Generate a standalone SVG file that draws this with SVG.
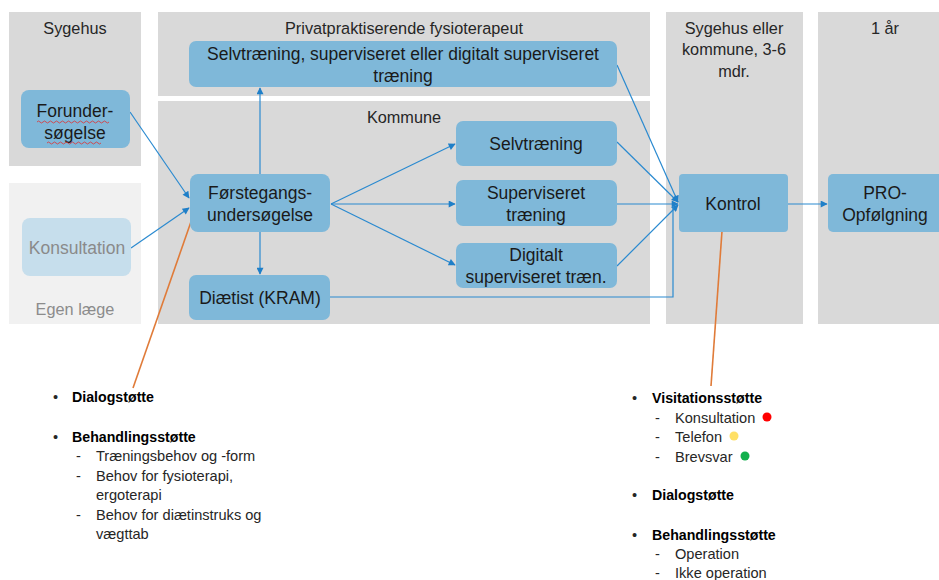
<svg xmlns="http://www.w3.org/2000/svg" width="939" height="580" viewBox="0 0 939 580">
<style>
.panel{fill:#d9d9d9}
.node{fill:#7fb8d9}
.t{font-family:"Liberation Sans",Arial,sans-serif;font-size:17.5px;fill:#1a1a1a;text-anchor:middle}
.h{font-family:"Liberation Sans",Arial,sans-serif;font-size:16.3px;fill:#262626;text-anchor:middle}
.l{font-family:"Liberation Sans",Arial,sans-serif;font-size:14.6px;fill:#262626}
.b{font-weight:bold;fill:#000;font-size:14.2px}
.c{fill:none;stroke:#2a8ad0;stroke-width:1.2}
.o{fill:none;stroke:#e07b39;stroke-width:1.6}
.sq{fill:none;stroke:#e03030;stroke-width:0.8}
</style>
<defs>
<marker id="ah" viewBox="0 0 10 10" refX="9" refY="5" markerWidth="9" markerHeight="7" markerUnits="userSpaceOnUse" orient="auto">
<path d="M0,0 L10,5 L0,10 z" fill="#1f7fc8"/>
</marker>
</defs>
<rect width="939" height="580" fill="#ffffff"/>
<g id="panels">
<rect class="panel" x="9" y="12" width="132" height="154"/>
<rect x="9" y="183" width="132" height="141" fill="#f1f1f1"/>
<rect class="panel" x="158" y="12" width="492" height="84"/>
<rect class="panel" x="158" y="101" width="492" height="223"/>
<rect class="panel" x="666" y="12" width="137" height="312"/>
<rect class="panel" x="818" y="12" width="121" height="312"/>
<text class="h" x="75" y="34">Sygehus</text>
<text class="h" x="75" y="315" style="fill:#8c8c8c">Egen læge</text>
<text class="h" x="404" y="34">Privatpraktiserende fysioterapeut</text>
<text class="h" x="404" y="123">Kommune</text>
<text class="h" x="734" y="34">Sygehus eller</text>
<text class="h" x="734" y="55">kommune, 3-6</text>
<text class="h" x="734" y="77">mdr.</text>
<text class="h" x="885" y="34">1 år</text>
</g>
<g id="connectors">
<line class="c" x1="130" y1="112" x2="189" y2="198" marker-end="url(#ah)"/>
<line class="c" x1="131" y1="248" x2="189" y2="208" marker-end="url(#ah)"/>
<line class="c" x1="260" y1="174" x2="260" y2="88" marker-end="url(#ah)"/>
<line class="c" x1="260" y1="232" x2="260" y2="274" marker-end="url(#ah)"/>
<line class="c" x1="331" y1="204" x2="455" y2="144" marker-end="url(#ah)"/>
<line class="c" x1="331" y1="204" x2="455" y2="204" marker-end="url(#ah)"/>
<line class="c" x1="331" y1="204" x2="455" y2="265" marker-end="url(#ah)"/>
<line class="c" x1="617" y1="65" x2="678" y2="202" marker-end="url(#ah)"/>
<line class="c" x1="617" y1="142" x2="678" y2="202" marker-end="url(#ah)"/>
<line class="c" x1="617" y1="204" x2="678" y2="204" marker-end="url(#ah)"/>
<line class="c" x1="617" y1="266" x2="678" y2="205" marker-end="url(#ah)"/>
<polyline class="c" points="330,297 673,297 673,206"/>
<line class="c" x1="788" y1="204" x2="827" y2="204" marker-end="url(#ah)"/>
<line class="o" x1="193" y1="216" x2="133" y2="388"/>
<line class="o" x1="723" y1="217" x2="711" y2="386"/>
</g>
<g id="n-forundersogelse">
<rect class="node" x="21" y="90" width="109" height="58" rx="8"/>
<text class="t" x="75" y="117">Forunder-</text>
<text class="t" x="75" y="139">søgelse</text>
<path class="sq" d="M37,122 q1.5,-2 3,0 t3,0 t3,0 t3,0 t3,0 t3,0 t3,0 t3,0 t3,0 t3,0 t3,0 t3,0 t3,0 t3,0 t3,0 t3,0 t3,0 t3,0 t3,0 t3,0 t3,0 t3,0 t3,0 t3,0"/>
<path class="sq" d="M47,143 q1.5,-2 3,0 t3,0 t3,0 t3,0 t3,0 t3,0 t3,0 t3,0 t3,0 t3,0 t3,0 t3,0 t3,0 t3,0 t3,0 t3,0 t3,0 t3,0"/>
</g>
<g id="n-konsultation">
<rect x="22" y="218" width="109" height="58" rx="8" fill="#c6deec"/>
<text class="t" x="77" y="254" style="fill:#8a8a8a">Konsultation</text>
</g>
<g id="n-selvtraening-privat">
<rect class="node" x="189" y="41" width="428" height="46" rx="7"/>
<text class="t" x="403" y="60">Selvtræning, superviseret eller digitalt superviseret</text>
<text class="t" x="403" y="82">træning</text>
</g>
<g id="n-forstegang">
<rect class="node" x="190" y="174" width="140" height="58" rx="8"/>
<text class="t" x="260" y="199">Førstegangs-</text>
<text class="t" x="260" y="221">undersøgelse</text>
</g>
<g id="n-diaetist">
<rect class="node" x="189" y="275" width="141" height="45" rx="7"/>
<text class="t" x="260" y="304">Diætist (KRAM)</text>
</g>
<g id="n-selvtraening">
<rect class="node" x="456" y="121" width="161" height="45" rx="7"/>
<text class="t" x="536" y="150">Selvtræning</text>
</g>
<g id="n-superviseret">
<rect class="node" x="456" y="180" width="161" height="46" rx="7"/>
<text class="t" x="536" y="199">Superviseret</text>
<text class="t" x="536" y="221">træning</text>
</g>
<g id="n-digitalt">
<rect class="node" x="456" y="243" width="161" height="45" rx="7"/>
<text class="t" x="536" y="261">Digitalt</text>
<text class="t" x="536" y="283">superviseret træn.</text>
</g>
<g id="n-kontrol">
<rect class="node" x="679" y="174" width="109" height="58" rx="4"/>
<text class="t" x="733" y="210">Kontrol</text>
</g>
<g id="n-pro">
<rect class="node" x="828" y="174" width="120" height="58" rx="5"/>
<text class="t" x="885" y="199">PRO-</text>
<text class="t" x="885" y="221">Opfølgning</text>
</g>
<g id="list-left">
<text class="l" x="53" y="402">•</text>
<text class="l b" x="72" y="402">Dialogstøtte</text>
<text class="l" x="53" y="442">•</text>
<text class="l b" x="72" y="442">Behandlingsstøtte</text>
<text class="l" x="76" y="461">-</text>
<text class="l" x="96" y="461">Træningsbehov og -form</text>
<text class="l" x="76" y="481">-</text>
<text class="l" x="96" y="481">Behov for fysioterapi,</text>
<text class="l" x="96" y="500">ergoterapi</text>
<text class="l" x="76" y="520">-</text>
<text class="l" x="96" y="520">Behov for diætinstruks og</text>
<text class="l" x="96" y="539">vægttab</text>
</g>
<g id="list-right">
<text class="l" x="632" y="403">•</text>
<text class="l b" x="652" y="403">Visitationsstøtte</text>
<text class="l" x="655" y="423">-</text>
<text class="l" x="675" y="423">Konsultation</text>
<circle cx="767" cy="417" r="4.5" fill="#ff0000"/>
<text class="l" x="655" y="442">-</text>
<text class="l" x="675" y="442">Telefon</text>
<circle cx="734" cy="436" r="4.5" fill="#ffe066"/>
<text class="l" x="655" y="462">-</text>
<text class="l" x="675" y="462">Brevsvar</text>
<circle cx="745" cy="456" r="4.5" fill="#12b04c"/>
<text class="l" x="632" y="500">•</text>
<text class="l b" x="652" y="500">Dialogstøtte</text>
<text class="l" x="632" y="540">•</text>
<text class="l b" x="652" y="540">Behandlingsstøtte</text>
<text class="l" x="655" y="559">-</text>
<text class="l" x="675" y="559">Operation</text>
<text class="l" x="655" y="578">-</text>
<text class="l" x="675" y="578">Ikke operation</text>
</g>
</svg>
